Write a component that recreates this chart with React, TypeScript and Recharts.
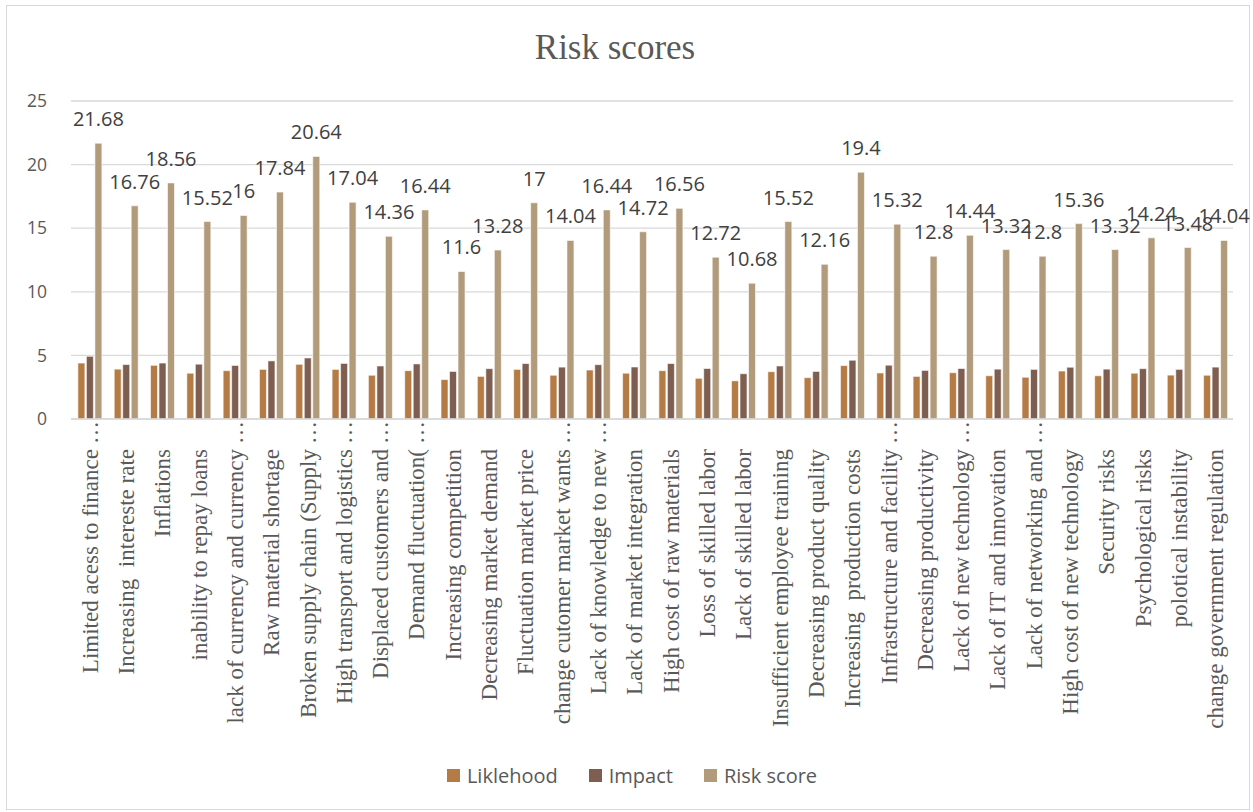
import React from 'react';
import {
  BarChart, Bar, XAxis, YAxis, CartesianGrid, Legend, LabelList,
} from 'recharts';

const risks = [
  'Limited acess to finance…',
  'Increasing  intereste rate',
  'Inflations',
  'inability to repay loans',
  'lack of currency and currency…',
  'Raw material shortage',
  'Broken supply chain (Supply…',
  'High transport and logistics…',
  'Displaced customers and…',
  'Demand fluctuation(…',
  'Increasing competition',
  'Decreasing market demand',
  'Fluctuation market price',
  'change cutomer market wants…',
  'Lack of knowledge to new…',
  'Lack of market integration',
  'High cost of raw materials',
  'Loss of skilled labor',
  'Lack of skilled labor',
  'Insufficient employee training',
  'Decreasing product quality',
  'Increasing  production costs',
  'Infrastructure and facility…',
  'Decreasing productivity',
  'Lack of new technology…',
  'Lack of IT and innovation',
  'Lack of networking and…',
  'High cost of new technology',
  'Security risks',
  'Psychological risks',
  'polotical instability',
  'change government regulation',
];

const likelihood = [
  4.4, 3.92, 4.22, 3.6, 3.8, 3.9, 4.3, 3.9, 3.44, 3.8, 3.1, 3.35, 3.9, 3.44, 3.85, 3.6,
  3.8, 3.2, 3.0, 3.72, 3.25, 4.2, 3.62, 3.35, 3.64, 3.4, 3.28, 3.77, 3.4, 3.6, 3.45, 3.44,
];

const impact = [
  4.93, 4.28, 4.4, 4.31, 4.21, 4.57, 4.8, 4.37, 4.17, 4.33, 3.74, 3.96, 4.36, 4.08, 4.27, 4.09,
  4.36, 3.97, 3.56, 4.17, 3.74, 4.62, 4.23, 3.82, 3.97, 3.92, 3.9, 4.07, 3.92, 3.96, 3.9, 4.08,
];

const riskScore = [
  21.68, 16.76, 18.56, 15.52, 16, 17.84, 20.64, 17.04, 14.36, 16.44, 11.6, 13.28, 17, 14.04, 16.44, 14.72,
  16.56, 12.72, 10.68, 15.52, 12.16, 19.4, 15.32, 12.8, 14.44, 13.32, 12.8, 15.36, 13.32, 14.24, 13.48, 14.04,
];

const yTicks = [0, 5, 10, 15, 20, 25];

const series = [
  { key: 'likelihood', name: 'Liklehood', color: '#B57B45' },
  { key: 'impact', name: 'Impact', color: '#7D5E51' },
  { key: 'risk', name: 'Risk score', color: '#B19B7B' },
];

const data = risks.map((name, i) => ({
  name,
  likelihood: likelihood[i],
  impact: impact[i],
  risk: riskScore[i],
}));

const GREY = '#595959';
const SERIF = "'Liberation Serif', 'Times New Roman', serif";
const SANS = "'Open Sans', sans-serif";

// rotated category label; a trailing ellipsis hangs past the text end, toward the axis
function RiskTick({ x, y, payload }: any) {
  const label: string = payload.value;
  const cut = label.endsWith('…');
  const main = cut ? label.slice(0, -1) : label;
  return (
    <g transform={`translate(${x + 8.5}, ${y + 22}) rotate(-90)`}>
      <text textAnchor="end" fill={GREY} fontSize={23} fontFamily={SERIF} style={{ whiteSpace: 'pre' }}>
        {main}
      </text>
      {cut && (
        <text x={5} textAnchor="start" fill={GREY} fontSize={23} fontFamily={SERIF}>…</text>
      )}
    </g>
  );
}

function ScoreLabel({ x, y, width, value }: any) {
  return (
    <text
      x={x + width / 2}
      y={y - 17}
      textAnchor="middle"
      fill="#404040"
      fontSize={20}
      fontFamily={SANS}
    >
      {value}
    </text>
  );
}

function LegendRow() {
  return (
    <div style={{
      height: 60, display: 'flex', alignItems: 'center', justifyContent: 'center',
      paddingLeft: 20, gap: 31, fontFamily: SANS, fontSize: 20, color: GREY,
    }}>
      {series.map(s => (
        <div key={s.key} style={{ display: 'flex', alignItems: 'center', gap: 7 }}>
          <span style={{ width: 13, height: 13, background: s.color, display: 'inline-block' }} />
          <span>{s.name}</span>
        </div>
      ))}
    </div>
  );
}

export default function App() {
  return (
    <div style={{ position: 'absolute', left: 0, top: 0, width: 1253, height: 812, background: '#fff' }}>
      <div style={{
        position: 'absolute', left: 6, top: 5, width: 1242, height: 803, border: '1px solid #d9d9d9',
      }} />
      <div style={{
        position: 'absolute', left: 0, top: 28, width: 1230, textAlign: 'center', lineHeight: '40px',
        fontFamily: SERIF, fontSize: 35, color: GREY,
      }}>
        Risk scores
      </div>
      <div style={{ position: 'absolute', left: 0, top: 0 }}>
        <BarChart
          width={1253}
          height={812}
          data={data}
          margin={{ top: 101, right: 20, bottom: 7, left: 11 }}
          barCategoryGap="19%"
          barGap={1.5}
        >
          <CartesianGrid vertical={false} stroke="#d9d9d9" strokeWidth={1.3} />
          <XAxis
            dataKey="name"
            interval={0}
            height={326}
            tick={<RiskTick />}
            tickLine={false}
            axisLine={{ stroke: '#d9d9d9', strokeWidth: 1.3 }}
          />
          <YAxis
            domain={[0, 25]}
            ticks={yTicks}
            width={60}
            tickLine={false}
            axisLine={false}
            tickMargin={18}
            tick={{ fill: GREY, fontSize: 17.5, fontFamily: SANS }}
          />
          <Legend verticalAlign="bottom" height={60} content={<LegendRow />} />
          {series.map(s => (
            <Bar
              key={s.key}
              dataKey={s.key}
              name={s.name}
              fill={s.color}
              stroke="#ffffff"
              strokeWidth={0.6}
              isAnimationActive={false}
            >
              {s.key === 'risk' && <LabelList dataKey="risk" content={<ScoreLabel />} />}
            </Bar>
          ))}
        </BarChart>
      </div>
    </div>
  );
}
